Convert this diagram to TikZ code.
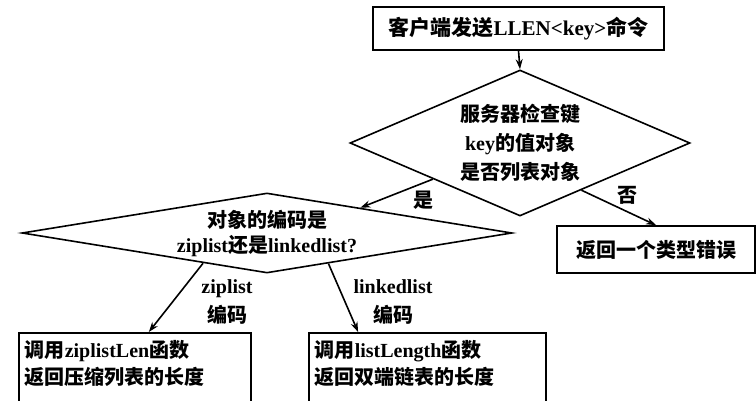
\documentclass[tikz,border=0pt]{standalone}
\usepackage{fontspec}
\setmainfont{Liberation Serif}
\newfontfamily\cjk{Noto Sans CJK SC}
\newcommand{\zh}[1]{{\cjk\bfseries #1}}
\usetikzlibrary{arrows.meta, positioning}
\usetikzlibrary{shapes.geometric}
\usetikzlibrary{calc}

\begin{document}
\begin{tikzpicture}[x=1pt, y=-1pt, line width=1.6pt,
    every node/.style={font=\fontsize{20}{29}\selectfont\bfseries},
    box/.style={draw, rectangle, inner sep=6pt},
    textbox/.style={draw, rectangle, align=left, anchor=north west,
        inner xsep=6pt, inner ysep=8pt, text depth=50pt,
        font=\fontsize{20}{27}\selectfont\bfseries},
    decision/.style={draw, diamond, inner sep=0pt, align=center},
    arr/.style={-{Stealth[length=10pt,width=7pt]}}]
    \useasboundingbox (0,0) rectangle (756,401);
    \clip (0,0) rectangle (756,401);

    % boxes and decisions
    \node[box, minimum width=291, minimum height=43,
        font=\fontsize{21}{29}\selectfont\bfseries] (cmd) at (518.5,28.5)
        {\zh{客户端发送}LLEN<key>\zh{命令}};
    \node[decision, minimum width=340, minimum height=146, shape aspect=2.33] (chk) at (520,143)
        {\zh{服务器检查键}\\key\zh{的值对象}\\\zh{是否列表对象}};
    \node[box, minimum width=198, minimum height=47] (err) at (656,249.5)
        {\zh{返回一个类型错误}};
    \node[decision, minimum width=490, minimum height=80, shape aspect=6.1,
        font=\fontsize{20}{25}\selectfont\bfseries] (enc) at (267,233)
        {\zh{对象的编码是}\\ziplist\zh{还是}linkedlist?};
    \node[textbox, text width=220] (zip) at (18,332)
        {\zh{调用}ziplistLen\zh{函数}\\\zh{返回压缩列表的长度}};
    \node[textbox, text width=225] (lnk) at (308,332)
        {\zh{调用}listLength\zh{函数}\\\zh{返回双端链表的长度}};

    % arrows
    \draw[arr] (cmd.south) -- (chk.north);
    \draw[arr] ($(chk.west)!0.49!(chk.south)$) -- ($(enc.north)!0.38!(enc.east)$);
    \draw[arr] ($(chk.east)!0.64!(chk.south)$) -- (err.north);
    \draw[arr] ($(enc.west)!0.74!(enc.south)$) -- ($(zip.north west)!0.56!(zip.north east)$);
    \draw[arr] ($(enc.east)!0.75!(enc.south)$) -- ($(lnk.north west)!0.21!(lnk.north east)$);

    % labels
    \node (yes) at (423,200) {\zh{是}};
    \node (no) at (627,195) {\zh{否}};
    \node[align=center] (ziplbl) at (227,302) {ziplist\\\zh{编码}};
    \node[align=center] (lnklbl) at (393,302) {linkedlist\\\zh{编码}};
\end{tikzpicture}
\end{document}
